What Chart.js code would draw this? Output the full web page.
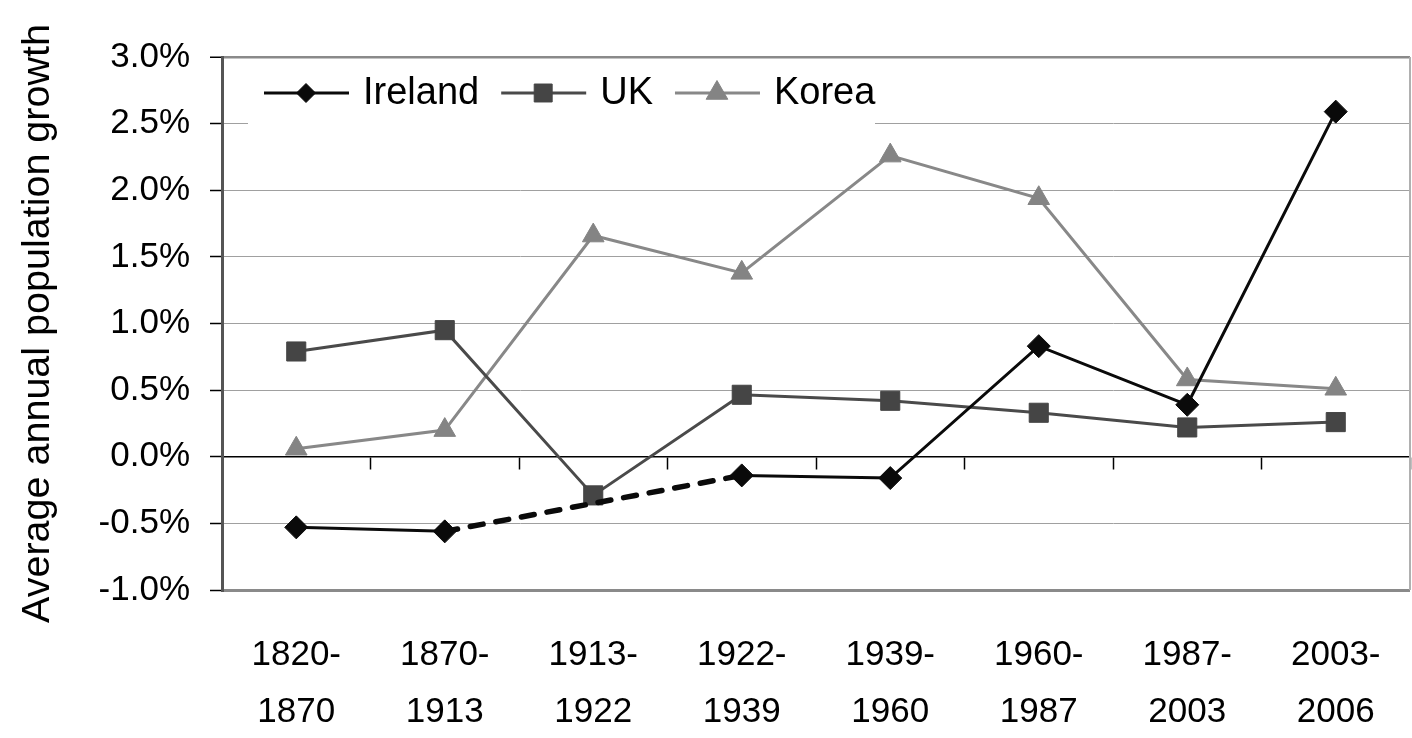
<!DOCTYPE html>
<html>
<head>
<meta charset="utf-8">
<script src="https://cdn.jsdelivr.net/npm/chart.js@4.4.1/dist/chart.umd.min.js"></script>
<style>
  html, body { margin: 0; padding: 0; background: #fff; }
  #wrap { width: 1412px; height: 738px; position: relative; }
</style>
</head>
<body>
<div id="wrap"><canvas id="c" width="1412" height="738"></canvas></div>
<script>
const categories = [["1820-","1870"],["1870-","1913"],["1913-","1922"],["1922-","1939"],["1939-","1960"],["1960-","1987"],["1987-","2003"],["2003-","2006"]];
const ireland = [-0.53, -0.56, null, -0.14, -0.16, 0.83, 0.39, 2.59];
const uk = [0.79, 0.95, -0.29, 0.465, 0.42, 0.33, 0.22, 0.26];
const korea = [0.06, 0.20, 1.66, 1.38, 2.26, 1.94, 0.58, 0.51];
const yTitle = "Average annual population growth";

const FONT = "'Liberation Sans', Arial, sans-serif";
Chart.defaults.font.family = FONT;
Chart.defaults.color = '#000';

const isGap = ctx => {
  const d = ctx.chart.data.datasets[ctx.datasetIndex].data;
  return (ctx.p1DataIndex - ctx.p0DataIndex) > 1 || d[ctx.p1DataIndex - 1] == null;
};

const legendPlugin = {
  id: 'customLegend',
  afterDatasetsDraw(chart) {
    const { ctx, chartArea: a } = chart;
    ctx.save();
    ctx.fillStyle = '#fff';
    ctx.fillRect(a.left + 26, a.top + 5, 627, 66);
    let x = a.left + 42;
    const y = a.top + 36;
    ctx.font = '38px ' + FONT;
    ctx.textBaseline = 'middle';
    ctx.textAlign = 'left';
    chart.data.datasets.forEach(ds => {
      ctx.strokeStyle = ds.borderColor;
      ctx.lineWidth = 3;
      ctx.setLineDash([]);
      ctx.beginPath(); ctx.moveTo(x, y); ctx.lineTo(x + 85, y); ctx.stroke();
      ctx.fillStyle = ds.pointBackgroundColor;
      ctx.strokeStyle = ds.pointBorderColor;
      ctx.lineWidth = 1;
      Chart.helpers.drawPoint(ctx, { pointStyle: ds.pointStyle, radius: ds.legendRadius, borderWidth: 1, rotation: 0 }, x + 42, y);
      ctx.fillStyle = '#000';
      ctx.fillText(ds.label, x + 99, y + 1);
      x += 99 + ctx.measureText(ds.label).width + 22;
    });
    ctx.restore();
  }
};

const framePlugin = {
  id: 'frame',
  beforeDatasetsDraw(chart) {
    const { ctx, chartArea: a } = chart;
    ctx.save();
    ctx.strokeStyle = '#b0b0b0';
    ctx.lineWidth = 2;
    ctx.beginPath(); ctx.moveTo(a.right, a.top); ctx.lineTo(a.right, a.bottom); ctx.stroke();
    ctx.restore();
  }
};

new Chart(document.getElementById('c'), {
  type: 'line',
  data: {
    labels: categories,
    datasets: [
      {
        label: 'Ireland', data: ireland, borderColor: '#0a0a0a', borderWidth: 3,
        pointStyle: 'rectRot', pointRadius: 11.5, legendRadius: 9.5, pointBackgroundColor: '#0a0a0a', pointBorderColor: '#0a0a0a', pointBorderWidth: 1,
        spanGaps: true, tension: 0,
        segment: {
          borderDash: ctx => isGap(ctx) ? [13, 13] : undefined,
          borderWidth: ctx => isGap(ctx) ? 5.5 : undefined,
          borderCapStyle: ctx => isGap(ctx) ? 'round' : undefined
        }
      },
      {
        label: 'UK', data: uk, borderColor: '#4a4a4a', borderWidth: 3,
        pointStyle: 'rect', pointRadius: 13.5, legendRadius: 12.7, pointBackgroundColor: '#454545', pointBorderColor: '#454545', pointBorderWidth: 1, tension: 0
      },
      {
        label: 'Korea', data: korea, borderColor: '#888888', borderWidth: 3,
        pointStyle: 'triangle', pointRadius: 12.5, legendRadius: 12.5, pointBackgroundColor: '#848484', pointBorderColor: '#848484', pointBorderWidth: 1, tension: 0
      }
    ]
  },
  options: {
    responsive: false,
    animation: false,
    devicePixelRatio: 1,
    events: [],
    layout: { autoPadding: false, padding: { top: 57, right: 2, left: 0, bottom: 0 } },
    plugins: { legend: { display: false }, tooltip: { enabled: false } },
    scales: {
      x: {
        type: 'category', position: 'bottom', offset: true,
        grid: { display: false, drawTicks: false, tickLength: 0 },
        border: { display: false },
        ticks: { font: { size: 35, lineHeight: 1.65 }, color: '#000', padding: 36, maxRotation: 0, autoSkip: false },
        afterFit(s) { s.height = 148; s.paddingLeft = 0; s.paddingRight = 0; }
      },
      x2: {
        type: 'category', axis: 'x', labels: categories, position: { y: 0 }, offset: true,
        grid: { drawOnChartArea: false, drawTicks: true, tickLength: 12, tickColor: '#000', tickWidth: 1.5, offset: true },
        border: { display: true, color: '#000', width: 1.5 },
        ticks: { display: false },
        afterFit(s) { s.paddingLeft = 0; s.paddingRight = 0; }
      },
      y: {
        min: -1, max: 3,
        ticks: { stepSize: 0.5, font: { size: 35 }, color: '#000', padding: 20, callback: v => v.toFixed(1) + '%' },
        grid: {
          color: c => c.tick.value === 0 ? '#000' : ((c.tick.value === 3 || c.tick.value === -1) ? '#8a8a8a' : '#a0a0a0'),
          lineWidth: c => c.tick.value === 3 ? 2.5 : (c.tick.value === -1 ? 3 : 1),
          tickColor: '#000', tickLength: 12, tickWidth: 1.5
        },
        border: { display: true, color: '#555', width: 3 },
        title: { display: true, text: yTitle, font: { size: 39.5 }, color: '#000', padding: { top: 14, bottom: 0 } },
        afterFit(s) { s.width = 222; }
      }
    }
  },
  plugins: [framePlugin, legendPlugin]
});
</script>
</body>
</html>
